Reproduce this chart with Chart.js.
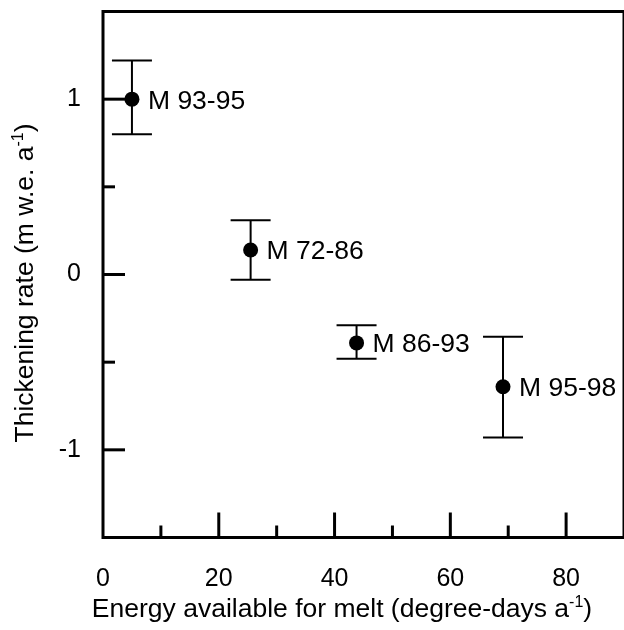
<!DOCTYPE html>
<html>
<head>
<meta charset="utf-8">
<script src="https://cdn.jsdelivr.net/npm/chart.js@4/dist/chart.umd.min.js"></script>
<style>
  html, body { margin: 0; padding: 0; background: #fff; }
  #wrap { width: 624px; height: 630px; }
</style>
</head>
<body>
<div id="wrap"><canvas id="c" width="624" height="630"></canvas></div>
<script>
// ---- data ----
const periods     = ['M 93-95', 'M 72-86', 'M 86-93', 'M 95-98'];
const energy      = [5.0, 25.5, 43.8, 69.1];          // degree-days a-1
const thickening  = [1.00, 0.14, -0.39, -0.64];       // m w.e. a-1
const errUpper    = [1.22, 0.31, -0.29, -0.355];
const errLower    = [0.80, -0.03, -0.48, -0.93];
const xMajorTicks = [20, 40, 60, 80];
const xMinorTicks = [10, 30, 50, 70];
const xTickLabels = [0, 20, 40, 60, 80];
const yMajorTicks = [-1, 0, 1];
const yMinorTicks = [-0.5, 0.5];
const yTickLabels = [-1, 0, 1];
const xTitleParts = [['Energy available for melt (degree-days a', false], ['-1', true], [')', false]];
const yTitleParts = [['Thickening rate (m w.e. a', false], ['-1', true], [')', false]];

const FONT = '"Liberation Sans", Arial, Helvetica, sans-serif';

function drawRich(ctx, parts, size) {
  let total = 0;
  const widths = parts.map(([t, sup]) => {
    ctx.font = (sup ? Math.round(size * 0.62) : size) + 'px ' + FONT;
    const w = ctx.measureText(t).width;
    total += w;
    return w;
  });
  let x = -total / 2;
  parts.forEach(([t, sup], i) => {
    ctx.font = (sup ? Math.round(size * 0.62) : size) + 'px ' + FONT;
    ctx.fillText(t, x, sup ? -size * 0.38 : 0);
    x += widths[i];
  });
}

const decor = {
  id: 'decor',
  beforeDatasetsDraw(chart) {
    const { ctx, chartArea: a, scales: { x, y } } = chart;
    ctx.save();
    ctx.strokeStyle = '#000';
    ctx.lineCap = 'butt';
    ctx.lineWidth = 3;
    ctx.strokeRect(a.left, a.top, a.right - a.left, a.bottom - a.top);
    const seg = (x1, y1, x2, y2) => { ctx.beginPath(); ctx.moveTo(x1, y1); ctx.lineTo(x2, y2); ctx.stroke(); };
    xMajorTicks.forEach(v => { const px = x.getPixelForValue(v); seg(px, a.bottom, px, a.bottom - 25); });
    xMinorTicks.forEach(v => { const px = x.getPixelForValue(v); seg(px, a.bottom, px, a.bottom - 12); });
    yMajorTicks.forEach(v => { const py = y.getPixelForValue(v); seg(a.left, py, a.left + 22, py); });
    yMinorTicks.forEach(v => { const py = y.getPixelForValue(v); seg(a.left, py, a.left + 12, py); });
    ctx.lineWidth = 2;
    energy.forEach((e, i) => {
      const px = x.getPixelForValue(e);
      const pt = y.getPixelForValue(errUpper[i]);
      const pb = y.getPixelForValue(errLower[i]);
      seg(px, pt, px, pb);
      seg(px - 20, pt, px + 20, pt);
      seg(px - 20, pb, px + 20, pb);
    });
    ctx.restore();
  },
  afterDatasetsDraw(chart) {
    const { ctx } = chart;
    const meta = chart.getDatasetMeta(0);
    ctx.save();
    ctx.fillStyle = '#000';
    ctx.font = '26.5px ' + FONT;
    ctx.textAlign = 'left';
    ctx.textBaseline = 'alphabetic';
    meta.data.forEach((el, i) => {
      ctx.fillText(periods[i], el.x + 16, el.y + 9.5);
    });
    ctx.restore();
  },
  afterDraw(chart) {
    const { ctx } = chart;
    ctx.save();
    ctx.fillStyle = '#000';
    ctx.textAlign = 'left';
    ctx.textBaseline = 'alphabetic';
    ctx.save();
    ctx.translate(342, 617);
    drawRich(ctx, xTitleParts, 26.5);
    ctx.restore();
    ctx.save();
    ctx.translate(33, 283);
    ctx.rotate(-Math.PI / 2);
    drawRich(ctx, yTitleParts, 26.5);
    ctx.restore();
    ctx.restore();
  }
};

const noPad = s => { s.paddingLeft = 0; s.paddingRight = 0; s.paddingTop = 0; s.paddingBottom = 0; };

new Chart(document.getElementById('c'), {
  type: 'scatter',
  data: {
    datasets: [{
      label: 'Thickening rate',
      data: energy.map((e, i) => ({ x: e, y: thickening[i] })),
      pointRadius: 7.5,
      pointHoverRadius: 7.5,
      backgroundColor: '#000',
      borderColor: '#000',
      borderWidth: 0,
      showLine: false
    }]
  },
  plugins: [decor],
  options: {
    responsive: false,
    animation: false,
    devicePixelRatio: 1,
    layout: { autoPadding: false, padding: { top: 11.5, right: 0, left: 0, bottom: 0 } },
    plugins: { legend: { display: false }, tooltip: { enabled: false }, title: { display: false } },
    scales: {
      x: {
        type: 'linear',
        min: 0, max: 90,
        grid: { display: false, drawTicks: false },
        border: { display: false },
        ticks: {
          stepSize: 10,
          autoSkip: false,
          maxRotation: 0,
          padding: 27,
          color: '#000',
          font: { family: FONT, size: 25 },
          callback: v => xTickLabels.includes(v) ? String(v) : ''
        },
        afterFit: s => { s.height = 92.5; noPad(s); }
      },
      y: {
        type: 'linear',
        min: -1.5, max: 1.5,
        grid: { display: false, drawTicks: false },
        border: { display: false },
        ticks: {
          stepSize: 0.5,
          autoSkip: false,
          padding: 22,
          color: '#000',
          font: { family: FONT, size: 25 },
          callback: v => yTickLabels.includes(v) ? String(v) : ''
        },
        afterFit: s => { s.width = 103; noPad(s); }
      }
    }
  }
});
</script>
</body>
</html>
